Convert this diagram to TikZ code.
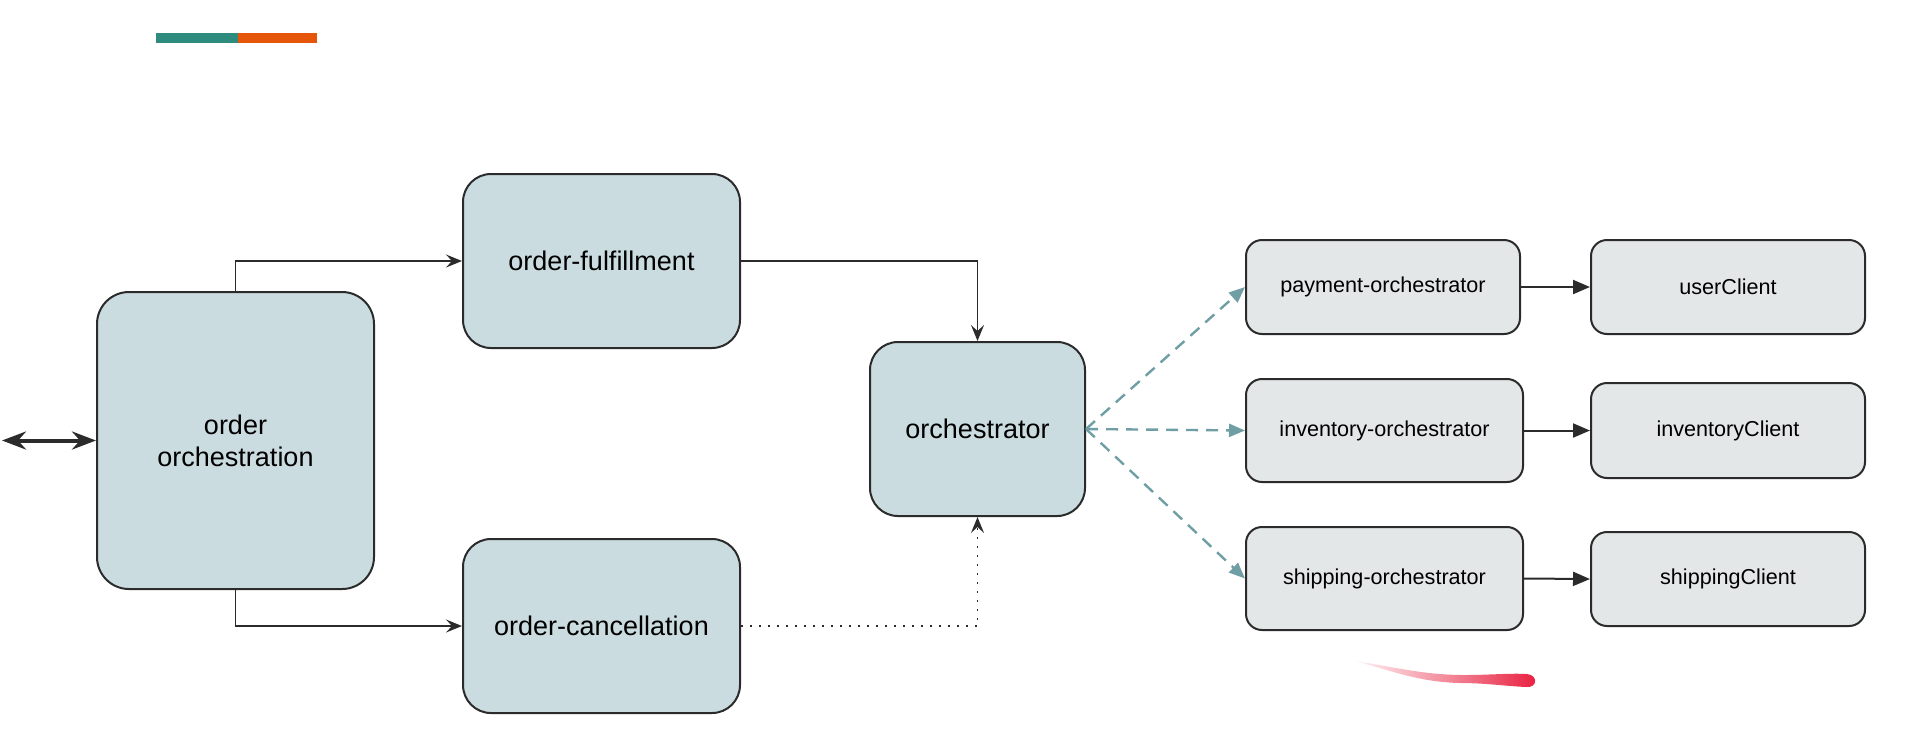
\documentclass[tikz,border=0pt]{standalone}
\usepackage{fontspec}
\setmainfont{Liberation Sans}
\usetikzlibrary{arrows.meta}
\definecolor{boxblue}{HTML}{CBDCE0}
\definecolor{boxgrey}{HTML}{E4E7E8}
\definecolor{edge}{HTML}{2B2B2B}
\definecolor{dashteal}{HTML}{6F9EA5}
\definecolor{barteal}{HTML}{2E8B7D}
\definecolor{barorange}{HTML}{E5550A}
\definecolor{inkred}{HTML}{E8203F}
\begin{document}
\begin{tikzpicture}[x=0.5pt,y=-0.5pt,
  bigbox/.style={draw=edge,line width=1pt,fill=boxblue,rounded corners=16pt,font=\fontsize{13.5}{16}\selectfont,align=center,inner sep=0pt},
  smallbox/.style={draw=edge,line width=1pt,fill=boxgrey,rounded corners=8pt,font=\fontsize{10.8}{13}\selectfont,inner sep=0pt,minimum width=137pt},
  link/.style={draw=edge,line width=0.8pt,-{Stealth[length=8pt,width=6.5pt,inset=3pt]}},
  call/.style={draw=edge,line width=1pt,-{Triangle[length=8.5pt,width=7pt]}},
  spawn/.style={draw=dashteal,line width=1.2pt,dash pattern=on 6pt off 4pt,-{Triangle[length=8pt,width=6.5pt]}}]
\useasboundingbox (0,0) rectangle (1911,752);

\fill[barteal] (156,33) rectangle (238,43);
\fill[barorange] (238,33) rectangle (317,43);

\node[bigbox,minimum width=138.5pt,minimum height=148.5pt] (oo) at (235.5,440.5) {order\\orchestration};
\node[bigbox,minimum width=138.5pt,minimum height=87pt,rounded corners=14pt] (ful) at (601.5,261) {order-fulfillment};
\node[bigbox,minimum width=138.5pt,minimum height=87pt,rounded corners=14pt] (can) at (601.5,626) {order-cancellation};
\node[bigbox,minimum width=107.5pt,minimum height=87pt,rounded corners=14pt] (orch) at (977.5,429) {orchestrator};

\node[smallbox,minimum height=47pt] (pay) at (1383,287) {payment-orchestrator};
\node[smallbox,minimum height=51.5pt,minimum width=138.5pt] (inv) at (1384.5,430.5) {inventory-orchestrator};
\node[smallbox,minimum height=51.5pt,minimum width=138.5pt] (shp) at (1384.5,578.5) {shipping-orchestrator};
\node[smallbox,minimum height=47pt] (usr) at (1728,287) {userClient};
\node[smallbox,minimum height=47.5pt] (invc) at (1728,430.5) {inventoryClient};
\node[smallbox,minimum height=47pt] (shpc) at (1728,579) {shippingClient};

\coordinate (ext) at (2,440.5);
\draw[draw=edge,line width=2pt,{Stealth[length=12pt,width=9pt,inset=4pt]}-{Stealth[length=12pt,width=9pt,inset=4pt]}] (ext) -- (oo.west);

\draw[link] (oo.north) |- (ful.west);
\draw[link] (oo.south) |- (can.west);
\draw[link] (ful.east) -| (orch.north);
\draw[link,dash pattern=on 1pt off 3.5pt] (can.east) -| (orch.south);

\draw[spawn] (orch.east) -- (pay.west);
\draw[spawn] (orch.east) -- (inv.west);
\draw[spawn] (orch.east) -- (shp.west);

\draw[call] (pay.east) -- (usr.west);
\draw[call] (inv.east) -- (invc.west);
\draw[call] (shp.east) -- (shpc.west);

\shade[left color=inkred!5,right color=inkred] (1355,661) .. controls (1400,668) and (1425,675) .. (1465,675) .. controls (1490,675) and (1510,673) .. (1527,674) .. controls (1538,675) and (1538,688) .. (1526,687) .. controls (1505,686) and (1485,683) .. (1460,683) .. controls (1420,682) and (1395,672) .. cycle;
\end{tikzpicture}
\end{document}
